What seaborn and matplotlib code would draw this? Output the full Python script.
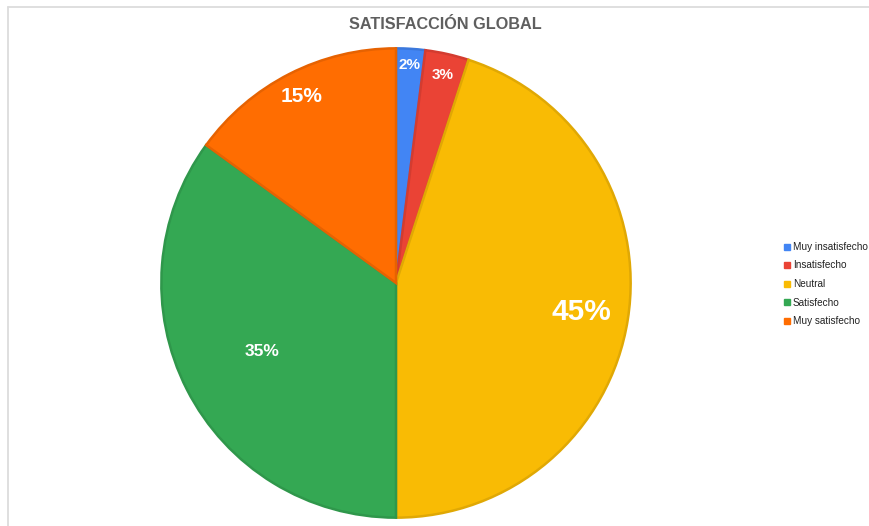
import numpy as np
import matplotlib
matplotlib.use("Agg")
import matplotlib.pyplot as plt
import matplotlib.colors as mcolors
from matplotlib.lines import Line2D
import seaborn as sns

# Survey results
categories = ["Muy insatisfecho", "Insatisfecho", "Neutral", "Satisfecho", "Muy satisfecho"]
percentages = [2, 3, 45, 35, 15]
colors = ["#4285F4", "#EA4335", "#F9BB04", "#34A853", "#FF6D01"]

# Label styling per slice: font size and radial position (fraction of radius)
label_sizes = [11, 11, 21.5, 12.5, 15]
label_radii = [0.93, 0.91, 0.80, 0.64, 0.89]

sns.set_theme(style="white")
plt.rcParams["font.family"] = ["Liberation Sans", "DejaVu Sans"]

W, H = 869, 526
fig = plt.figure(figsize=(W / 100, H / 100), dpi=100)
fig.patch.set_facecolor("white")

cx, cy, r = 396, 283, 237
ax = fig.add_axes([(cx - r) / W, (H - cy - r) / H, 2 * r / W, 2 * r / H])

palette = sns.color_palette(colors)
edge_cols = [tuple(np.array(mcolors.to_rgb(c)) * 0.9) for c in palette]

wedges, _ = ax.pie(
    percentages,
    colors=palette,
    startangle=90,
    counterclock=False,
    radius=1.0,
    wedgeprops=dict(linewidth=1.8),
)
for w, ec in zip(wedges, edge_cols):
    w.set_edgecolor(ec)
    w.set_joinstyle("miter")

for w, pct, fs, rr in zip(wedges, percentages, label_sizes, label_radii):
    ang = np.deg2rad((w.theta1 + w.theta2) / 2)
    ax.text(rr * np.cos(ang), rr * np.sin(ang), f"{pct}%",
            ha="center", va="center", color="white",
            fontsize=fs, fontweight="bold")

ax.set_xlim(-1.01, 1.01)
ax.set_ylim(-1.01, 1.01)
ax.set_aspect("equal")
ax.axis("off")

fig.text(445 / W, 1 - 24.5 / H, "SATISFACCIÓN GLOBAL", ha="center", va="center",
         fontsize=11.7, fontweight="bold", color="#5f5f5f")

handles = [Line2D([0], [0], marker="s", linestyle="none", markersize=4.5,
                  markerfacecolor=c, markeredgecolor=c) for c in palette]
fig.legend(handles, categories, loc="center left",
           bbox_to_anchor=(780 / W, 1 - 284 / H), frameon=False,
           fontsize=7.2, handlelength=0.6, handletextpad=0.3,
           labelspacing=0.85, borderaxespad=0, labelcolor="#222222")

# Frame lines along the top and left edges
fig.add_artist(Line2D([8 / W, 1], [1 - 6.5 / H, 1 - 6.5 / H],
                      transform=fig.transFigure, color="#dcdcdc", linewidth=1.3))
fig.add_artist(Line2D([8 / W, 8 / W], [0, 1 - 6.5 / H],
                      transform=fig.transFigure, color="#dcdcdc", linewidth=1.3))

fig.savefig("out.png", dpi=100, facecolor="white")
